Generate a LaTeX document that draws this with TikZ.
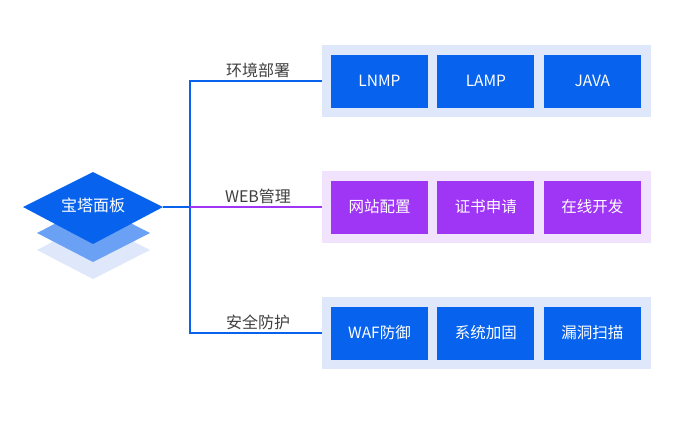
\documentclass[tikz,border=0pt]{standalone}
\usepackage{fontspec}
\setmainfont{Noto Sans CJK SC}
\usetikzlibrary{positioning}
\definecolor{bblue}{HTML}{0763EE}
\definecolor{bpurple}{HTML}{9F35F5}
\definecolor{bgblue}{HTML}{DFE7FA}
\definecolor{bgpurple}{HTML}{F1E2FD}
\tikzset{
  item/.style={fill=#1,text=white,minimum width=97pt,minimum height=53pt,inner sep=0pt,font=\fontsize{15.5}{16}\selectfont},
  group/.style={fill=#1,minimum width=329pt,minimum height=72pt,inner sep=0pt},
  lbl/.style={text=black!75,font=\fontsize{16}{16}\selectfont,inner sep=1pt}
}
\begin{document}
\begin{tikzpicture}[x=1pt,y=-1pt]
  \useasboundingbox (0,0) rectangle (694,432);
  % stacked diamonds
  \fill[bgblue] (37,250) -- (93,221) -- (150,250) -- (93,279) -- cycle;
  \fill[bblue!60] (37,233) -- (93,204) -- (150,233) -- (93,262) -- cycle;
  \fill[bblue] (23,207) -- (93,172) -- (163,207) -- (93,244) -- cycle;
  \node[text=white,font=\fontsize{16}{16}\selectfont] (panel) at (93,205) {宝塔面板};
  \coordinate (tip) at (163,207);
  % groups
  \node[group=bgblue] (g1) at (486.5,81) {};
  \node[group=bgpurple] (g2) at (486.5,207) {};
  \node[group=bgblue] (g3) at (486.5,333) {};
  \node[item=bblue] (a1) at (379.5,81) {LNMP};
  \node[item=bblue,right=9pt of a1] (a2) {LAMP};
  \node[item=bblue,right=9pt of a2] (a3) {JAVA};
  \node[item=bpurple] (b1) at (379.5,207) {网站配置};
  \node[item=bpurple,right=9pt of b1] (b2) {证书申请};
  \node[item=bpurple,right=9pt of b2] (b3) {在线开发};
  \node[item=bblue] (c1) at (379.5,333) {WAF防御};
  \node[item=bblue,right=9pt of c1] (c2) {系统加固};
  \node[item=bblue,right=9pt of c2] (c3) {漏洞扫描};
  % connectors
  \coordinate (j) at (190,207);
  \draw[bblue,line width=2pt] (tip) -- (j);
  \draw[bblue,line width=2pt] (g1.west) -| (j) |- (g3.west);
  \draw[bpurple,line width=2pt] (j) -- (g2.west);
  \node[lbl] (l1) at (258,70) {环境部署};
  \node[lbl] (l2) at (258,196) {WEB管理};
  \node[lbl] (l3) at (258,322) {安全防护};
\end{tikzpicture}
\end{document}
